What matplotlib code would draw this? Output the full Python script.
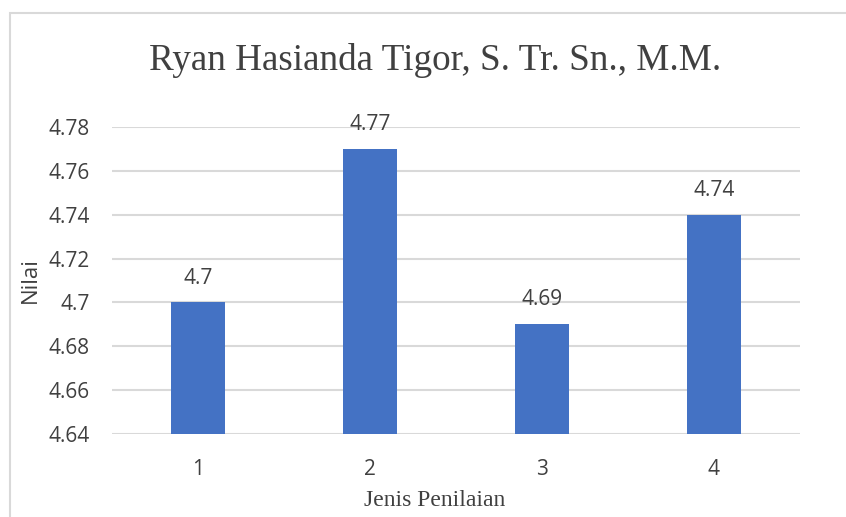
import matplotlib
matplotlib.use("Agg")
import matplotlib.pyplot as plt
from matplotlib.patches import Rectangle

categories = ["1", "2", "3", "4"]
values = [4.70, 4.77, 4.69, 4.74]
value_labels = ["4.7", "4.77", "4.69", "4.74"]
yticks = [4.64, 4.66, 4.68, 4.70, 4.72, 4.74, 4.76, 4.78]
ytick_labels = ["4.64", "4.66", "4.68", "4.7", "4.72", "4.74", "4.76", "4.78"]

W, H = 846, 517
fig = plt.figure(figsize=(W / 100, H / 100), dpi=100)
fig.patch.set_facecolor("white")

# outer chart border (partly off-canvas)
fig.patches.append(Rectangle((10 / W, -0.1), 1.2, (H - 13) / H + 0.1,
                             transform=fig.transFigure, fill=False,
                             edgecolor="#d9d9d9", lw=1.5))

ax = fig.add_axes([112 / W, 1 - 434 / H, (800 - 112) / W, (434 - 127) / H])
x = list(range(len(categories)))
ax.bar(x, [v - 4.64 for v in values], bottom=4.64, width=0.314,
       color="#4472C4", zorder=3)
ax.set_xlim(-0.5, 3.5)
ax.set_ylim(4.64, 4.78)
ax.set_yticks(yticks)
ax.set_yticklabels(ytick_labels)
ax.set_xticks(x)
ax.set_xticklabels(categories)
ax.grid(axis="y", color="#d9d9d9", lw=1.5, zorder=0)
for s in ax.spines.values():
    s.set_visible(False)
ax.tick_params(length=0, labelsize=15, labelcolor="#404040")
for lab in ax.get_xticklabels() + ax.get_yticklabels():
    lab.set_fontfamily("Open Sans")
ax.tick_params(axis="y", pad=16)
ax.tick_params(axis="x", pad=18)

for xi, v, t in zip(x, values, value_labels):
    ax.annotate(t, (xi, v), xytext=(0, 10), textcoords="offset points",
                ha="center", va="bottom", fontsize=15, color="#404040",
                fontfamily="Open Sans")

fig.text(435 / W, 1 - 60 / H, "Ryan Hasianda Tigor, S. Tr. Sn., M.M.",
         ha="center", va="center", fontsize=26.7, color="#404040",
         fontfamily="Liberation Serif")
fig.text(435 / W, 1 - 500 / H, "Jenis Penilaian", ha="center", va="center",
         fontsize=17, color="#404040", fontfamily="Liberation Serif")
fig.text(30 / W, 1 - 280 / H, "Nilai", ha="center", va="center",
         rotation=90, fontsize=16, color="#404040", fontfamily="Open Sans")

fig.savefig("out.png", dpi=100)
